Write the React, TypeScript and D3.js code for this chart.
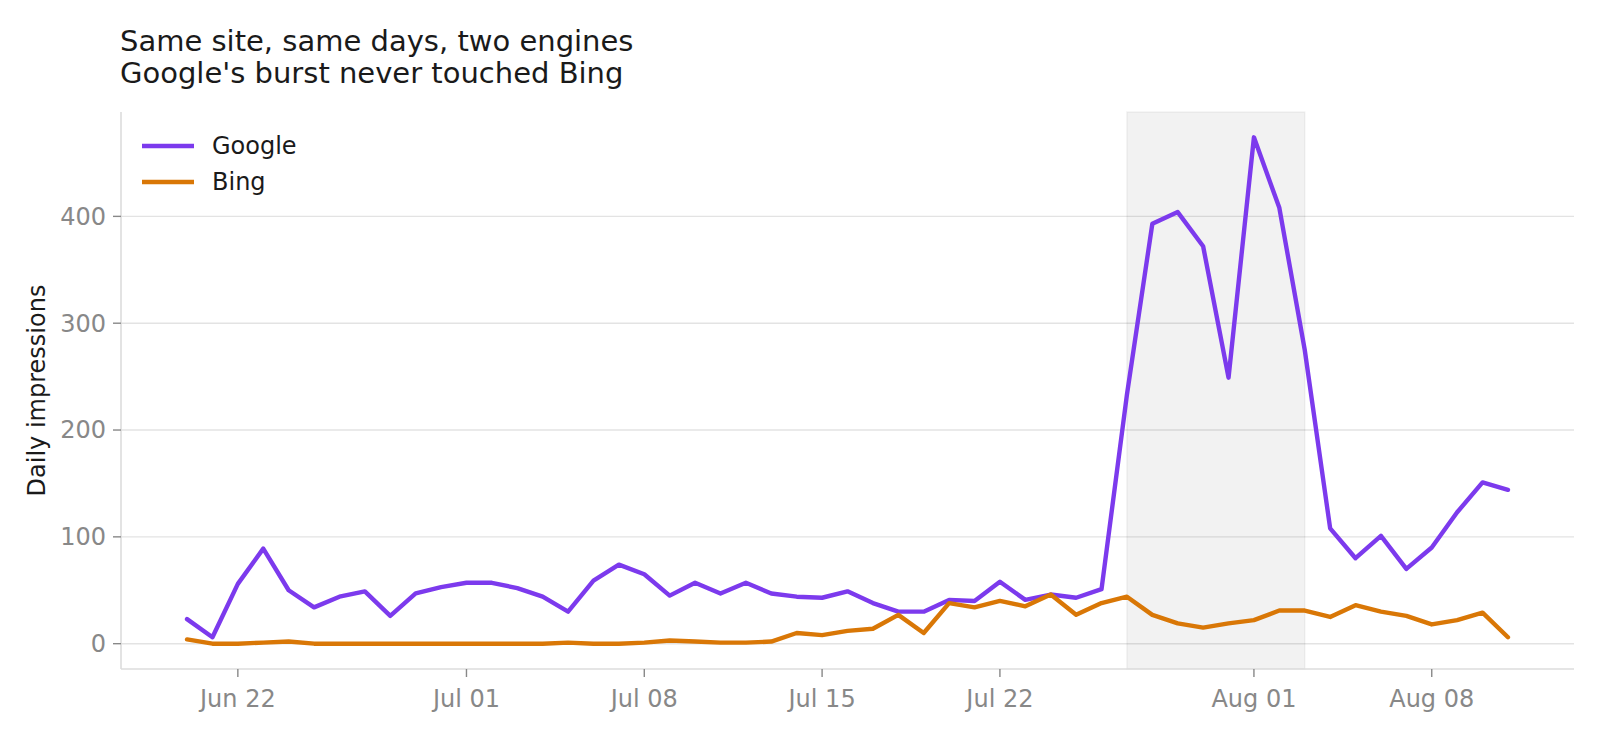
import * as d3 from "d3";

const START_DAY = "2024-06-20";
const END_DAY = "2024-08-12"; // exclusive

const googleValues = [
  23, 6, 56, 89, 50, 34, 44, 49, 26, 47, 53, 57, 57, 52, 44, 30, 59, 74, 65, 45,
  57, 47, 57, 47, 44, 43, 49, 38, 30, 30, 41, 40, 58, 41, 46, 43, 51, 233, 393,
  404, 372, 249, 474, 408, 275, 108, 80, 101, 70, 90, 123, 151, 144,
];

const bingValues = [
  4, 0, 0, 1, 2, 0, 0, 0, 0, 0, 0, 0, 0, 0, 0, 1, 0, 0, 1, 3, 2, 1, 1, 2, 10, 8,
  12, 14, 27, 10, 38, 34, 40, 35, 46, 27, 38, 44, 27, 19, 15, 19, 22, 31, 31, 25,
  36, 30, 26, 18, 22, 29, 6,
];

const seriesNames = ["Google", "Bing"];
const seriesColors = ["#7c3aed", "#d97706"];

const xTickDays = [
  "2024-06-22",
  "2024-07-01",
  "2024-07-08",
  "2024-07-15",
  "2024-07-22",
  "2024-08-01",
  "2024-08-08",
];
const yTicks = [0, 100, 200, 300, 400];

const burstStart = "2024-07-27";
const burstEnd = "2024-08-03";

const titleLines = [
  "Same site, same days, two engines",
  "Google's burst never touched Bing",
];

const W = 1600;
const H = 736;
const FONT = "'DejaVu Sans', sans-serif";

export default function App() {
  const margin = { top: 112, right: 26, bottom: 67, left: 121 };
  const plotW = W - margin.left - margin.right;
  const plotH = H - margin.top - margin.bottom;

  const days = d3.utcDay.range(new Date(START_DAY), new Date(END_DAY));
  const first = days[0].getTime();
  const last = days[days.length - 1].getTime();
  const xPad = (last - first) * 0.05;

  const x = d3
    .scaleUtc()
    .domain([new Date(first - xPad), new Date(last + xPad)])
    .range([0, plotW]);

  const yMax = d3.max([...googleValues, ...bingValues]) || 0;
  const yPad = yMax * 0.05;
  const y = d3.scaleLinear().domain([-yPad, yMax + yPad]).range([plotH, 0]);

  const line = d3
    .line<number>()
    .x((_, i) => x(days[i]))
    .y((d) => y(d));

  const fmt = d3.utcFormat("%b %d");
  const series = [googleValues, bingValues];

  return (
    <svg
      width={W}
      height={H}
      style={{ position: "absolute", left: 0, top: 0, display: "block", background: "#fff" }}
      fontFamily={FONT}
    >
      {/* Title */}
      {titleLines.map((t, i) => (
        <text key={t} x={120} y={51 + i * 32} fontSize={29} fill="#1a1a1a">
          {t}
        </text>
      ))}

      <g transform={`translate(${margin.left},${margin.top})`}>
        {/* Grid */}
        {yTicks.map((t) => (
          <line
            key={t}
            x1={0}
            x2={plotW}
            y1={y(t)}
            y2={y(t)}
            stroke="#e3e3e3"
            strokeWidth={1.4}
          />
        ))}

        {/* Burst window */}
        <rect
          x={x(new Date(burstStart))}
          y={0}
          width={x(new Date(burstEnd)) - x(new Date(burstStart))}
          height={plotH}
          fill="#000"
          fillOpacity={0.05}
          stroke="#000"
          strokeOpacity={0.05}
          strokeWidth={1.5}
        />

        {/* Spines */}
        <line x1={0} x2={0} y1={0} y2={plotH} stroke="#dcdcdc" strokeWidth={1.6} />
        <line x1={0} x2={plotW} y1={plotH} y2={plotH} stroke="#dcdcdc" strokeWidth={1.6} />

        {/* Y ticks */}
        {yTicks.map((t) => (
          <g key={t} transform={`translate(0,${y(t)})`}>
            <line x1={-8} x2={0} stroke="#888" strokeWidth={1.4} />
            <text
              x={-15}
              dy="0.35em"
              textAnchor="end"
              fontSize={24}
              fill="#888"
            >
              {t}
            </text>
          </g>
        ))}

        {/* X ticks */}
        {xTickDays.map((d) => {
          const dt = new Date(d);
          return (
            <g key={d} transform={`translate(${x(dt)},${plotH})`}>
              <line y1={0} y2={8} stroke="#888" strokeWidth={1.4} />
              <text y={38} textAnchor="middle" fontSize={24} fill="#888">
                {fmt(dt)}
              </text>
            </g>
          );
        })}

        {/* Lines */}
        {series.map((vals, i) => (
          <path
            key={seriesNames[i]}
            d={line(vals) || ""}
            fill="none"
            stroke={seriesColors[i]}
            strokeWidth={4.4}
            strokeLinejoin="round"
            strokeLinecap="round"
          />
        ))}

        {/* Legend */}
        {seriesNames.map((name, i) => (
          <g key={name} transform={`translate(21,${34 + i * 36})`}>
            <line x1={0} x2={52} stroke={seriesColors[i]} strokeWidth={4.6} />
            <text x={70} dy="0.35em" fontSize={24} fill="#1a1a1a">
              {name}
            </text>
          </g>
        ))}
      </g>

      {/* Y label */}
      <text
        transform={`translate(45,${margin.top + plotH / 2}) rotate(-90)`}
        textAnchor="middle"
        fontSize={24}
        fill="#1a1a1a"
      >
        Daily impressions
      </text>
    </svg>
  );
}
